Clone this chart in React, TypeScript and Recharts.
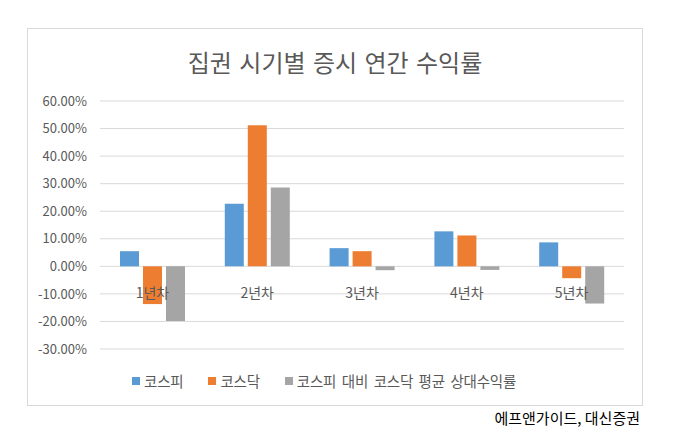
import React from 'react';
import { BarChart, Bar, XAxis, YAxis, CartesianGrid } from 'recharts';

const categories = ['1년차', '2년차', '3년차', '4년차', '5년차'];
const kospi = [5.5, 22.7, 6.6, 12.7, 8.7];
const kosdaq = [-13.7, 51.2, 5.5, 11.2, -4.3];
const relative = [-19.8, 28.6, -1.4, -1.3, -13.5];
const yTicks = [-30, -20, -10, 0, 10, 20, 30, 40, 50, 60];
const seriesNames = ['코스피', '코스닥', '코스피 대비 코스닥 평균 상대수익률'];
const seriesColors = ['#5B9BD5', '#ED7D31', '#A5A5A5'];
const title = '집권 시기별 증시 연간 수익률';
const source = '에프앤가이드, 대신증권';

const data = categories.map((c, i) => ({
  name: c,
  kospi: kospi[i],
  kosdaq: kosdaq[i],
  relative: relative[i],
}));

const W = 676;
const H = 436;
const X_AXIS_H = 30;
const M = { top: 101, right: 52, bottom: 87 - X_AXIS_H, left: 0 };
const Y_MIN = -30;
const Y_MAX = 60;
const FONT = '"Noto Sans CJK KR", "Noto Sans", sans-serif';
const TXT = '#595959';

const plotTop = M.top;
const plotBottom = H - M.bottom - X_AXIS_H;
const zeroY = plotTop + ((Y_MAX - 0) / (Y_MAX - Y_MIN)) * (plotBottom - plotTop);

const XTick = (props: any) => {
  const { x, payload } = props;
  return (
    <text
      x={x}
      y={zeroY + 26}
      textAnchor="middle"
      dominantBaseline="central"
      fill={TXT}
      fontSize={14}
      fontFamily={FONT}
    >
      {payload.value}
    </text>
  );
};

export default function App() {
  const keys = ['kospi', 'kosdaq', 'relative'];
  return (
    <div style={{ position: 'absolute', left: 0, top: 0, width: W, height: H, background: '#fff', fontFamily: FONT }}>
      <div
        style={{
          position: 'absolute',
          left: 27,
          top: 28,
          width: 614,
          height: 376,
          border: '1px solid #d9d9d9',
        }}
      />
      <div
        style={{
          position: 'absolute',
          left: 27,
          width: 616,
          top: 48,
          textAlign: 'center',
          fontSize: 24,
          lineHeight: '28px',
          color: TXT,
          wordSpacing: 2,
        }}
      >
        {title}
      </div>
      <div style={{ position: 'absolute', left: 0, top: 0 }}>
        <BarChart width={W} height={H} data={data} margin={M} barSize={19} barGap={4}>
          <CartesianGrid vertical={false} stroke="#d9d9d9" />
          <XAxis
            dataKey="name"
            height={X_AXIS_H}
            axisLine={false}
            tickLine={false}
            tick={<XTick />}
            interval={0}
          />
          <YAxis
            domain={[Y_MIN, Y_MAX]}
            ticks={yTicks}
            width={100}
            axisLine={false}
            tickLine={false}
            tickSize={0}
            tickMargin={13}
            interval={0}
            tickFormatter={(v: number) => v.toFixed(2) + '%'}
            tick={{ fill: TXT, fontSize: 13, fontFamily: FONT }}
          />
          {keys.map((k, i) => (
            <Bar key={k} dataKey={k} name={seriesNames[i]} fill={seriesColors[i]} isAnimationActive={false} />
          ))}
        </BarChart>
      </div>
      <div
        style={{
          position: 'absolute',
          left: 132,
          top: 371,
          display: 'flex',
          alignItems: 'center',
          fontSize: 14.5,
          color: TXT,
          lineHeight: '20px',
          whiteSpace: 'nowrap',
          wordSpacing: 2.5,
          letterSpacing: -0.2,
        }}
      >
        {seriesNames.map((n, i) => (
          <div key={n} style={{ display: 'flex', alignItems: 'center', marginRight: 25 }}>
            <span style={{ display: 'inline-block', width: 8, height: 8, background: seriesColors[i], marginRight: 4 }} />
            <span>{n}</span>
          </div>
        ))}
      </div>
      <div
        style={{
          position: 'absolute',
          right: W - 640,
          top: 408,
          fontSize: 15,
          lineHeight: '20px',
          color: '#000',
          whiteSpace: 'nowrap',
        }}
      >
        {source}
      </div>
    </div>
  );
}
